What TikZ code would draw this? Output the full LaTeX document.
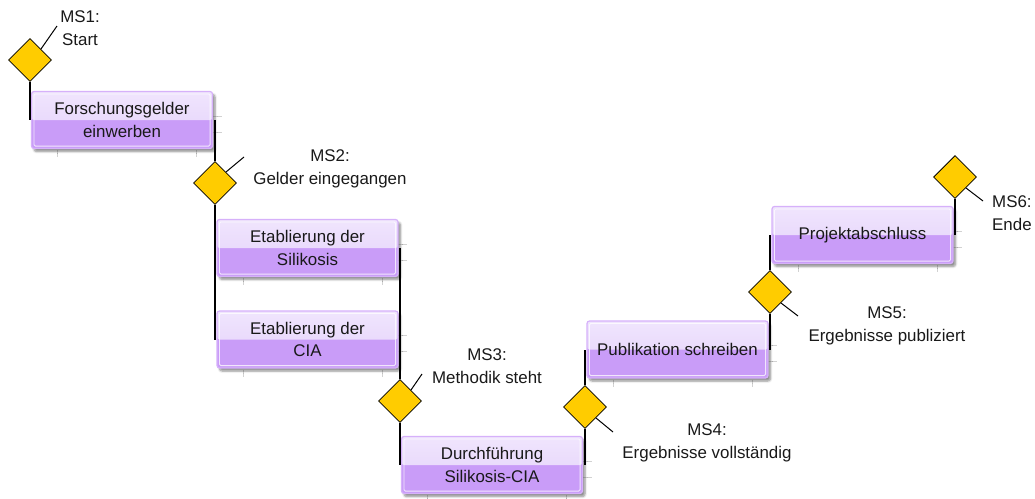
\documentclass[tikz,border=0pt]{standalone}
\usepackage{fontspec}
\setmainfont{Liberation Sans}
\usetikzlibrary{shapes.geometric,shadows.blur,calc}
\definecolor{boxtop}{HTML}{F0E5FD}
\definecolor{boxmid}{HTML}{E3D0FB}
\definecolor{boxbot}{HTML}{C99CF8}
\definecolor{boxedge}{HTML}{D6B1FA}
\definecolor{msfill}{HTML}{FFCC00}
\definecolor{tickgray}{HTML}{D2D2D2}
\begin{document}
\begin{tikzpicture}[x=1pt,y=-1pt,
  font=\fontsize{16.9}{22.5}\selectfont,
  taskbox/.style={draw=boxedge, line width=1.2pt, rounded corners=2.5pt, fill=boxbot,
     minimum width=181pt, minimum height=57pt, inner sep=0pt, align=center, text=black!90,
     blur shadow={shadow xshift=2.5pt, shadow yshift=-3pt, shadow blur steps=6, shadow opacity=45},
     path picture={
       \fill[top color=boxtop, bottom color=boxmid] (path picture bounding box.north west) rectangle (path picture bounding box.east);
       \draw[white, opacity=0.75, line width=0.8pt, rounded corners=1.5pt] ([shift={(2.4pt,-2.4pt)}]path picture bounding box.north west) rectangle ([shift={(-2.4pt,2.4pt)}]path picture bounding box.south east);
     }},
  ms/.style={diamond, draw=black, line width=0.8pt, fill=msfill, minimum width=43pt, minimum height=43pt, inner sep=0pt},
  lbl/.style={align=center, inner sep=0pt, text=black!90},
  conn/.style={line width=1.3pt, black},
  leader/.style={line width=1pt, black},
  tick/.style={tickgray, line width=0.8pt}]
\useasboundingbox (0,0) rectangle (1035,498);

% ticks (behind boxes)
\foreach \cx/\cy in {122/120, 307.5/248, 307.5/339.5, 492/465, 677.5/349.5, 862.5/235}{
  \draw[tick] (\cx+90.5,\cy-4) -- ++(9,0);
  \draw[tick] (\cx+90.5,\cy+12) -- ++(9,0);
  \draw[tick] (\cx-64.5,\cy+30) -- ++(0,7);
  \draw[tick] (\cx+74.5,\cy+30) -- ++(0,7);
}

% tasks
\node[taskbox] (b1) at (122,120) {Forschungsgelder\\einwerben};
\node[taskbox] (b2) at (307.5,248) {Etablierung der\\Silikosis};
\node[taskbox] (b3) at (307.5,339.5) {Etablierung der\\CIA};
\node[taskbox] (b4) at (492,465) {Durchführung\\Silikosis-CIA};
\node[taskbox] (b5) at (677.5,349.5) {Publikation schreiben};
\node[taskbox] (b6) at (862.5,235) {Projektabschluss};

% milestones
\node[ms] (m1) at (30,60) {};
\node[ms] (m2) at (215,183) {};
\node[ms] (m3) at (400,401) {};
\node[ms] (m4) at (585,407) {};
\node[ms] (m5) at (770,292) {};
\node[ms] (m6) at (955,177) {};

% milestone labels
\node[lbl] (t1) at (80,28) {MS1:\\Start};
\node[lbl] (t2) at (330,169) {MS2:\\Gelder eingegangen};
\node[lbl] (t3) at (487,366) {MS3:\\Methodik steht};
\node[lbl] (t4) at (707,443) {MS4:\\Ergebnisse vollständig};
\node[lbl] (t5) at (887,326) {MS5:\\Ergebnisse publiziert};
\node[lbl, anchor=west] (t6) at (992,213) {MS6:\\Ende};

\coordinate (e1) at (57,26);
\coordinate (e2) at (244,157);
\coordinate (e3) at (422,374);
\coordinate (e4) at (613,432);
\coordinate (e5) at (798,316);
\coordinate (e6) at (983,201);

% connectors
\draw[conn] (m1.south) -- (m1.south |- b1.west);
\draw[conn] (m2.north) -- (m2.north |- b1.east);
\draw[conn] (m2.south) -- (m2.south |- b3.west);
\draw[conn] (m3.north) -- (m3.north |- b2.east);
\draw[conn] (m3.south) -- (m3.south |- b4.west);
\draw[conn] (m4.south) -- (m4.south |- b4.east);
\draw[conn] (m4.north) -- (m4.north |- b5.west);
\draw[conn] (m5.south) -- (m5.south |- b5.east);
\draw[conn] (m5.north) -- (m5.north |- b6.west);
\draw[conn] (m6.south) -- (m6.south |- b6.east);

% label leaders
\draw[leader] (m1.north east) -- (e1);
\draw[leader] (m2.north east) -- (e2);
\draw[leader] (m3.north east) -- (e3);
\draw[leader] (m4.south east) -- (e4);
\draw[leader] (m5.south east) -- (e5);
\draw[leader] (m6.south east) -- (e6);
\end{tikzpicture}
\end{document}
